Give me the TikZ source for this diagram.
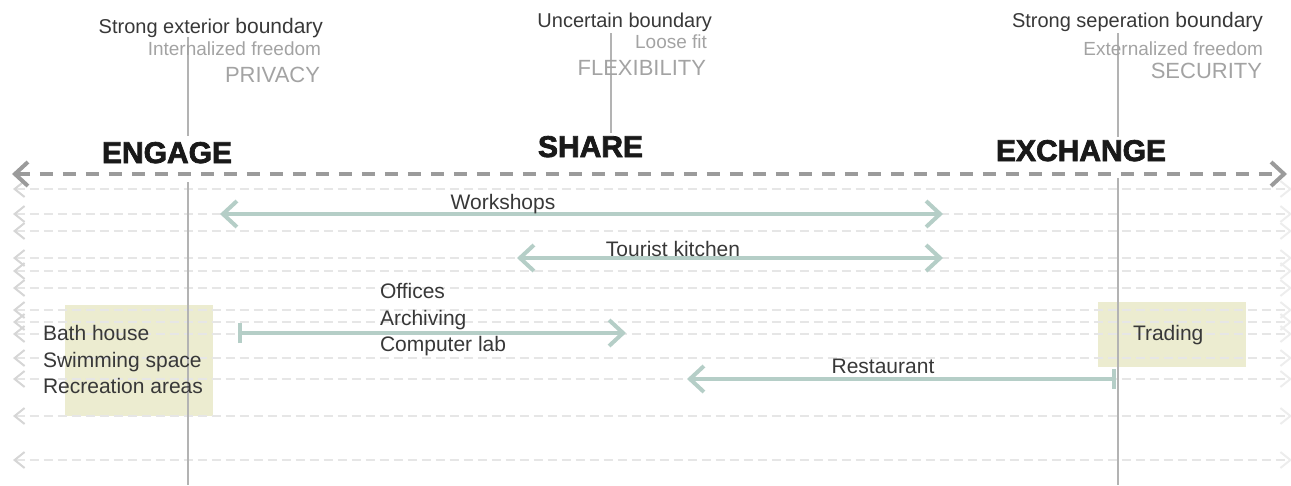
\documentclass[tikz,border=0pt]{standalone}
\usepackage{fontspec}
\setmainfont{Liberation Sans}
\newfontfamily\heavyfont{Liberation Sans Bold}[FakeBold=2.5]
\usetikzlibrary{arrows.meta}
\definecolor{tealarrow}{HTML}{B5CEC7}
\definecolor{khaki}{HTML}{ECECD0}
\definecolor{dashlight}{HTML}{E6E6E6}
\definecolor{tiplight}{HTML}{D6D6D6}
\definecolor{tipfaint}{HTML}{EDEDED}
\definecolor{dashdark}{HTML}{9B9B9B}
\definecolor{txtdark}{HTML}{383838}
\definecolor{txtgray}{HTML}{A3A3A3}
\definecolor{vline}{HTML}{B3B3B3}
\begin{document}
\begin{tikzpicture}[x=1pt,y=-1pt,
  every node/.style={inner sep=0pt,outer sep=0pt},
  toplabel/.style={font=\fontsize{20}{24}\selectfont,text=txtdark,anchor=base east},
  sublabel/.style={font=\fontsize{19}{23}\selectfont,text=txtgray,anchor=base east},
  biglabel/.style={font=\fontsize{22}{26}\selectfont,text=txtgray,anchor=base east},
  zonelabel/.style={font=\heavyfont\fontsize{30}{34}\selectfont,text=black!90,anchor=base west},
  itemlabel/.style={font=\fontsize{21}{26}\selectfont,text=txtdark,anchor=base west},
  arrowlabel/.style={font=\fontsize{21}{26}\selectfont,text=txtdark,anchor=base},
  guide/.style={draw=dashlight,line width=2pt,dash pattern=on 9pt off 5pt,
    {Straight Barb[length=10pt,width=16pt,color=tiplight]}-{Straight Barb[length=10pt,width=16pt,color=tipfaint]}},
  mainline/.style={draw=dashdark,line width=4pt,dash pattern=on 13pt off 10pt,
    {Straight Barb[length=13pt,width=24pt]}-{Straight Barb[length=13pt,width=24pt]}},
  boundary/.style={draw=vline,line width=1.2pt},
  zonebox/.style={fill=khaki,draw=none},
  span/.style={draw=tealarrow,line width=4pt},
  tipboth/.style={{Straight Barb[length=14pt,width=26pt]}-{Straight Barb[length=14pt,width=26pt]}},
  tipbarto/.style={{Bar[width=20pt]}-{Straight Barb[length=14pt,width=26pt]}},
]
\useasboundingbox (0,0) rectangle (1291,485);

% zone boxes
\fill[zonebox] (65,305) rectangle (213,416);
\fill[zonebox] (1098,302) rectangle (1246,367);

% light guide lines
\foreach \i/\y in {1/189,2/214,3/231,4/258,5/271,6/288,7/310,8/322,9/334,10/358,11/379,12/416,13/460}{
  \coordinate (gL\i) at (13,\y);
  \coordinate (gR\i) at (1292,\y);
  \draw[guide] (gL\i) -- (gR\i);
}

% main axis
\coordinate (axL) at (12,174);
\coordinate (axR) at (1287,174);
\draw[mainline] (axL) -- (axR);

% boundary lines
\coordinate (engT) at (188,37);
\coordinate (engM) at (188,136);
\coordinate (engS) at (188,182);
\coordinate (engB) at (188,485);
\coordinate (shaT) at (611,33);
\coordinate (shaM) at (611,133);
\coordinate (excT) at (1118,33);
\coordinate (excM) at (1118,137);
\coordinate (excS) at (1118,178);
\coordinate (excB) at (1118,485);
\draw[boundary] (engT) -- (engM);
\draw[boundary] (engS) -- (engB);
\draw[boundary] (shaT) -- (shaM);
\draw[boundary] (excT) -- (excM);
\draw[boundary] (excS) -- (excB);

% teal spans
\coordinate (wsL) at (220,214);
\coordinate (wsR) at (943,214);
\coordinate (tkL) at (517,258);
\coordinate (tkR) at (943,258);
\coordinate (ofL) at (238,333);
\coordinate (ofR) at (626,333);
\coordinate (reR) at (1116,379);
\coordinate (reL) at (687,379);
\draw[span,tipboth] (wsL) -- (wsR);
\draw[span,tipboth] (tkL) -- (tkR);
\draw[span,tipbarto] (ofL) -- (ofR);
\draw[span,tipbarto] (reR) -- (reL);

% header texts
\node[toplabel] (engH) at (323,33) {Strong exterior {\fontsize{21}{24}\selectfont boundary}};
\node[sublabel] (engF) at (321,55) {Internalized freedom};
\node[biglabel] (engP) at (320,82) {PRIVACY};
\node[zonelabel] (engage) at (102,163) {ENGAGE};

\node[toplabel] (shaH) at (712,27) {Uncertain boundary};
\node[sublabel] (shaF) at (707,48) {Loose fit};
\node[biglabel] (shaP) at (706,75) {FLEXIBILITY};
\node[zonelabel] (share) at (538,157) {SHARE};

\node[toplabel] (excH) at (1263,27) {Strong seperation {\fontsize{21}{24}\selectfont boundary}};
\node[sublabel] (excF) at (1263,55) {Externalized freedom};
\node[biglabel] (excP) at (1262,78) {SECURITY};
\node[zonelabel] (exchange) at (996,161) {EXCHANGE};

% span labels
\node[arrowlabel] (workshops) at (503,209) {Workshops};
\node[arrowlabel] (kitchen) at (673,256) {Tourist kitchen};
\node[arrowlabel] (restaurant) at (883,373) {Restaurant};
\node[itemlabel] (offices) at (380,298) {Offices};
\node[itemlabel] (archiving) at (380,325) {Archiving};
\node[itemlabel] (complab) at (380,351) {Computer lab};

% zone items
\node[itemlabel] (bath) at (43,340) {Bath house};
\node[itemlabel] (swim) at (43,367) {Swimming space};
\node[itemlabel] (recr) at (43,393) {Recreation areas};
\node[itemlabel] (trading) at (1133,340) {Trading};
\end{tikzpicture}
\end{document}
